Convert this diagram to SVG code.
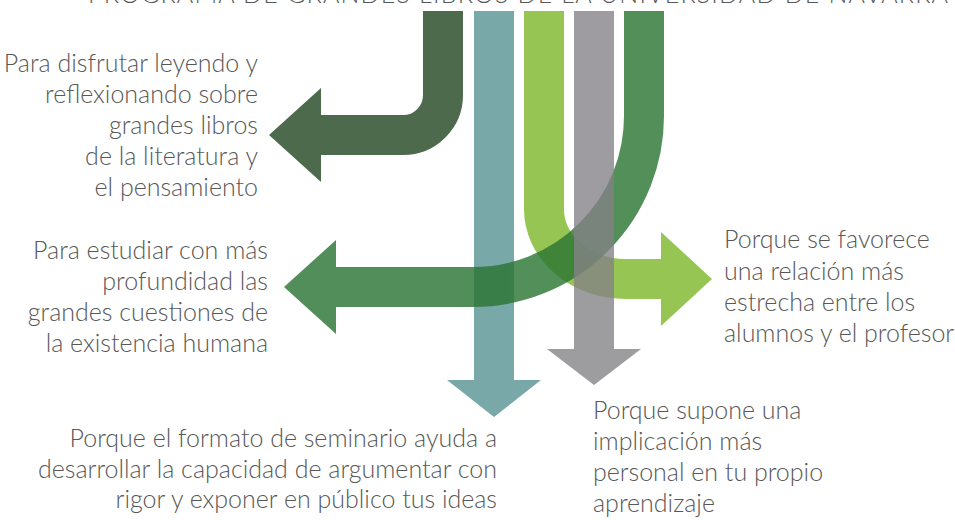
<svg xmlns="http://www.w3.org/2000/svg" width="955" height="520" viewBox="0 0 955 520">
<style>
  .t { font-family: Lato, "Liberation Sans", sans-serif; font-weight: 300; font-size: 25px; fill: #585858; }
  .e { text-anchor: end; }
  .band { fill: none; stroke-width: 40; stroke-linecap: butt; }
</style>
<rect width="955" height="520" fill="#ffffff"/>
<text class="t" x="88" y="3" font-size="23" textLength="860" lengthAdjust="spacing">PROGRAMA DE GRANDES LIBROS DE LA UNIVERSIDAD DE NAVARRA</text>
<g id="connectors">
  <g id="arrow-darkgreen">
    <path class="band" stroke="#4d6a4c" d="M443,11 V95 A40,40 0 0 1 403,135 H320"/>
    <polygon fill="#4d6a4c" points="321,88 269,135 321,182"/>
  </g>
  <g id="arrow-teal">
    <rect x="474" y="11" width="40" height="370" fill="#79a8a9"/>
    <polygon fill="#79a8a9" points="447,380 541,380 494,417"/>
  </g>
  <g id="arrow-lightgreen">
    <path class="band" stroke="#97c554" d="M544,11 V209 A82,70 0 0 0 626,279 H662"/>
    <polygon fill="#97c554" points="661,232 712,279 661,326"/>
  </g>
  <g id="arrow-green" opacity="0.81">
    <path class="band" stroke="#2b7533" d="M644,11 V116 A171,171 0 0 1 473,287 H335"/>
    <polygon fill="#2b7533" points="336,240 284,287 336,334"/>
  </g>
  <g id="arrow-gray" opacity="0.79">
    <rect x="574" y="11" width="40" height="339" fill="#848286"/>
    <polygon fill="#848286" points="547,349 641,349 594,385"/>
  </g>
</g>
<g id="node-disfrutar">
  <text class="t e" x="258" y="72">Para disfrutar leyendo y</text>
  <text class="t e" x="258" y="103">reflexionando sobre</text>
  <text class="t e" x="258" y="134">grandes libros</text>
  <text class="t e" x="258" y="165">de la literatura y</text>
  <text class="t e" x="258" y="196">el pensamiento</text>
</g>
<g id="node-estudiar">
  <text class="t e" x="268" y="259">Para estudiar con más</text>
  <text class="t e" x="268" y="290">profundidad las</text>
  <text class="t e" x="268" y="321">grandes cuestiones de</text>
  <text class="t e" x="268" y="352">la existencia humana</text>
</g>
<g id="node-seminario">
  <text class="t e" x="497" y="447">Porque el formato de seminario ayuda a</text>
  <text class="t e" x="497" y="478">desarrollar la capacidad de argumentar con</text>
  <text class="t e" x="497" y="508">rigor y exponer en público tus ideas</text>
</g>
<g id="node-implicacion">
  <text class="t" x="593" y="419">Porque supone una</text>
  <text class="t" x="593" y="450">implicación más</text>
  <text class="t" x="593" y="481">personal en tu propio</text>
  <text class="t" x="593" y="512">aprendizaje</text>
</g>
<g id="node-relacion">
  <text class="t" x="724" y="248">Porque se favorece</text>
  <text class="t" x="724" y="280">una relación más</text>
  <text class="t" x="724" y="311">estrecha entre los</text>
  <text class="t" x="724" y="342">alumnos y el profesor</text>
</g>
</svg>
